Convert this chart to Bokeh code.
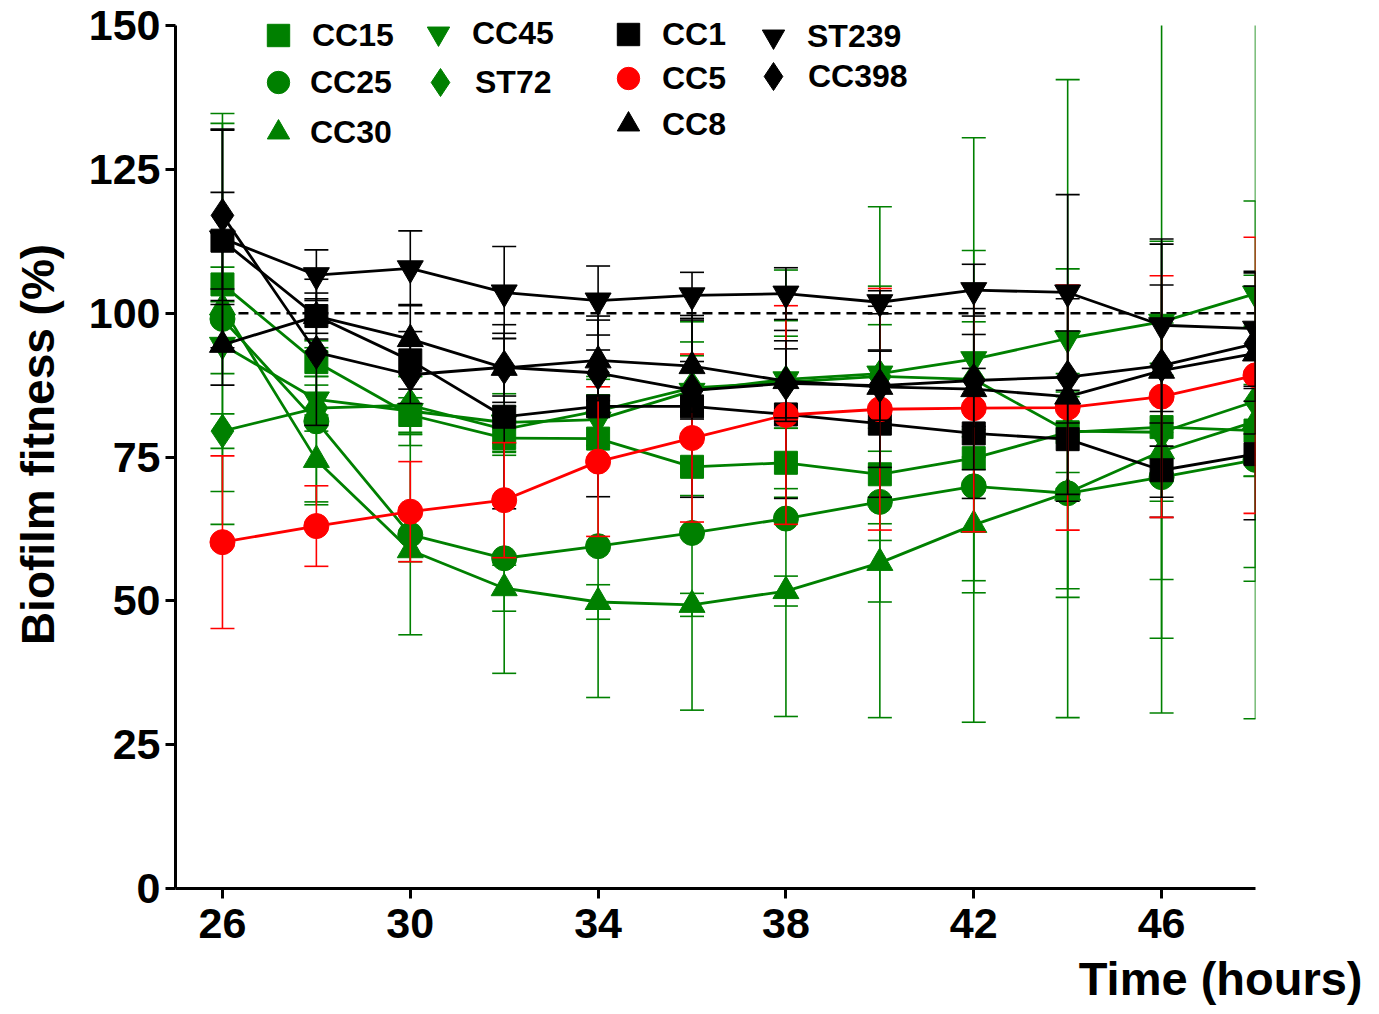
from bokeh.plotting import figure
from bokeh.models import Range1d, FixedTicker, Legend, LegendItem, Title, ColumnDataSource
from bokeh.embed import file_html
from bokeh.resources import INLINE

# ---------------- data ----------------
hours = [26, 28, 30, 32, 34, 36, 38, 40, 42, 44, 46, 48]
x_ticks = [26, 30, 34, 38, 42, 46]
y_ticks = [0, 25, 50, 75, 100, 125, 150]
reference_level = 100

cc15_mean = [105.0, 91.5, 82.3, 78.3, 78.2, 73.3, 74.0, 72.0, 74.8, 79.3, 80.2, 79.6]
cc15_sd = [3.0, 2.5, 3.0, 3.0, 4.0, 5.0, 6.0, 4.0, 5.0, 7.0, 9.0, 8.0]

cc25_mean = [99.0, 81.2, 61.5, 57.4, 59.5, 61.8, 64.3, 67.2, 69.9, 68.7, 71.5, 74.5]
cc25_sd = [35.7, 14.0, 17.4, 20.0, 26.3, 30.8, 34.4, 37.5, 41.0, 39.0, 41.0, 45.0]

cc30_mean = [101.0, 74.5, 58.8, 52.2, 49.8, 49.3, 51.7, 56.6, 63.2, 68.8, 76.0, 81.2]
cc30_sd = [32.0, 7.8, 2.0, 4.0, 3.0, 2.0, 2.6, 6.8, 11.8, 16.7, 22.3, 25.4]

cc45_mean = [94.5, 85.0, 83.0, 81.0, 81.5, 86.5, 88.5, 89.5, 92.0, 95.6, 98.5, 103.4]
cc45_sd = [5.0, 4.0, 6.0, 5.0, 7.0, 12.0, 19.0, 29.0, 38.5, 45.0, 55.0, 50.0]

st72_mean = [79.5, 83.5, 84.0, 79.8, 83.0, 87.0, 88.0, 89.0, 88.5, 79.5, 79.3, 84.7]
st72_sd = [3.0, 4.0, 5.0, 4.0, 6.0, 8.0, 8.0, 9.0, 10.0, 10.0, 12.0, 13.0]

cc1_mean = [112.6, 99.5, 91.8, 82.0, 83.8, 83.8, 82.4, 80.8, 79.1, 78.1, 72.7, 75.5]
cc1_sd = [8.4, 3.0, 5.0, 16.0, 15.7, 15.8, 14.6, 12.8, 11.3, 10.8, 8.2, 11.4]

cc5_mean = [60.2, 63.0, 65.5, 67.5, 74.2, 78.3, 82.3, 83.3, 83.5, 83.6, 85.5, 89.2]
cc5_sd = [15.0, 7.0, 8.7, 10.0, 13.0, 14.6, 19.0, 21.0, 21.5, 21.3, 21.0, 24.0]

cc8_mean = [94.5, 99.5, 95.5, 90.5, 91.8, 90.8, 88.2, 87.2, 86.8, 85.5, 90.0, 93.0]
cc8_sd = [7.0, 4.0, 6.0, 6.0, 7.0, 8.0, 7.0, 14.0, 14.0, 17.0, 22.0, 14.0]

st239_mean = [113.0, 106.6, 107.8, 103.6, 102.2, 103.1, 103.4, 101.9, 104.0, 103.6, 97.9, 97.3]
st239_sd = [19.0, 4.4, 6.5, 8.0, 6.0, 4.0, 4.5, 2.0, 4.5, 17.0, 15.0, 10.0]

cc398_mean = [117.0, 93.2, 89.3, 90.6, 89.6, 86.6, 87.8, 87.4, 88.3, 88.9, 90.9, 94.7]
cc398_sd = [14.8, 12.7, 5.0, 5.0, 4.0, 5.0, 6.0, 6.0, 8.0, 8.0, 14.0, 10.0]

GREEN = "#008000"
RED = "#ff0000"
BLACK = "#000000"
FONT = "Liberation Sans"

series = [
    ("CC15", cc15_mean, cc15_sd, GREEN, "square", 23),
    ("CC25", cc25_mean, cc25_sd, GREEN, "circle", 25),
    ("CC30", cc30_mean, cc30_sd, GREEN, "triangle", 26),
    ("CC45", cc45_mean, cc45_sd, GREEN, "inverted_triangle", 26),
    ("ST72", st72_mean, st72_sd, GREEN, "diamond", 34),
    ("CC1", cc1_mean, cc1_sd, BLACK, "square", 23),
    ("CC5", cc5_mean, cc5_sd, RED, "circle", 25),
    ("CC8", cc8_mean, cc8_sd, BLACK, "triangle", 26),
    ("ST239", st239_mean, st239_sd, BLACK, "inverted_triangle", 26),
    ("CC398", cc398_mean, cc398_sd, BLACK, "diamond", 34),
]

# legend placement: (name, x, y from frame bottom-left in px, glyph box, label standoff)
legend_layout = [
    ("CC15", 75, 825, 56, 6), ("CC25", 75, 778, 56, 4), ("CC30", 75, 728, 56, 4),
    ("CC45", 235, 827, 56, 6), ("ST72", 230, 771, 70, 0),
    ("CC1", 425, 826, 56, 6), ("CC5", 425, 782, 56, 6), ("CC8", 425, 736, 56, 6),
    ("ST239", 570, 824, 56, 6), ("CC398", 563, 777, 70, 0),
]

y_axis_max = y_ticks[-1]
y_view_max = 154.35  # a little headroom above the axis for the legend

# ---------------- figure ----------------
p = figure(width=1379, height=1014,
           x_range=Range1d(25, 48), y_range=Range1d(0, y_view_max),
           output_backend="svg", toolbar_location=None,
           min_border_left=175, min_border_right=124,
           min_border_top=0, min_border_bottom=126)
p.outline_line_color = None
p.xgrid.grid_line_color = None
p.ygrid.grid_line_color = None
p.background_fill_color = "white"

for ax in (p.xaxis[0], p.yaxis[0]):
    ax.axis_line_width = 3
    ax.axis_line_color = "black"
    ax.major_tick_line_width = 3
    ax.major_tick_line_color = "black"
    ax.major_tick_out = 10
    ax.major_tick_in = 0
    ax.minor_tick_line_color = None
    ax.major_label_text_font = FONT
    ax.major_label_text_font_style = "bold"
    ax.major_label_text_font_size = "43px"
    ax.major_label_text_color = "black"

p.xaxis.ticker = FixedTicker(ticks=x_ticks)
p.yaxis.ticker = FixedTicker(ticks=y_ticks)
p.yaxis.bounds = (0, y_axis_max)
p.xaxis.major_label_standoff = 10
p.yaxis.major_label_standoff = 5
p.yaxis.axis_label = "Biofilm fitness (%)"
p.yaxis.axis_label_text_font = FONT
p.yaxis.axis_label_text_font_style = "bold"
p.yaxis.axis_label_text_font_size = "46px"
p.yaxis.axis_label_text_color = "black"
p.yaxis.axis_label_standoff = 22

# reference dashed line at 100 %
p.line(x=[hours[0], hours[-1]], y=[reference_level, reference_level],
       line_color="black", line_width=2.5, line_dash="10 6")

marker_renderers = {}
for name, mean, sd, color, marker, size in series:
    lo = [m - s for m, s in zip(mean, sd)]
    hi = [m + s for m, s in zip(mean, sd)]
    hi_bar = [min(h, y_axis_max) for h in hi]
    hi_cap = [h if h <= y_axis_max else float("nan") for h in hi]
    src = ColumnDataSource(dict(x=hours, y=mean, lo=lo, hi=hi_bar, hicap=hi_cap))
    p.segment(x0="x", y0="lo", x1="x", y1="hi", source=src,
              line_color=color, line_width=1.6)
    p.scatter(x="x", y="lo", marker="dash", size=24, source=src,
              line_color=color, line_width=1.6)
    p.scatter(x="x", y="hicap", marker="dash", size=24, source=src,
              line_color=color, line_width=1.6)
    p.line(x="x", y="y", source=src, line_color=color, line_width=2.8)
    r = p.scatter(x="x", y="y", marker=marker, size=size, source=src,
                  fill_color=color, line_color=color, line_width=1)
    marker_renderers[name] = r

for name, vx, vy, box, standoff in legend_layout:
    lg = Legend(items=[LegendItem(label=name, renderers=[marker_renderers[name]])],
                location=(vx, vy), orientation="vertical",
                glyph_width=box, glyph_height=box, spacing=0,
                padding=0, margin=0, label_standoff=standoff,
                label_text_font=FONT, label_text_font_style="bold",
                label_text_font_size="32px", label_text_color="black",
                label_height=30,
                border_line_alpha=0, background_fill_alpha=0)
    p.add_layout(lg)

xtitle = Title(text="Time (hours)", align="right", offset=-107, standoff=19,
               text_font=FONT, text_font_style="bold", text_font_size="47px",
               text_color="black")
p.add_layout(xtitle, "below")

open("out.html", "w").write(file_html(p, INLINE))
